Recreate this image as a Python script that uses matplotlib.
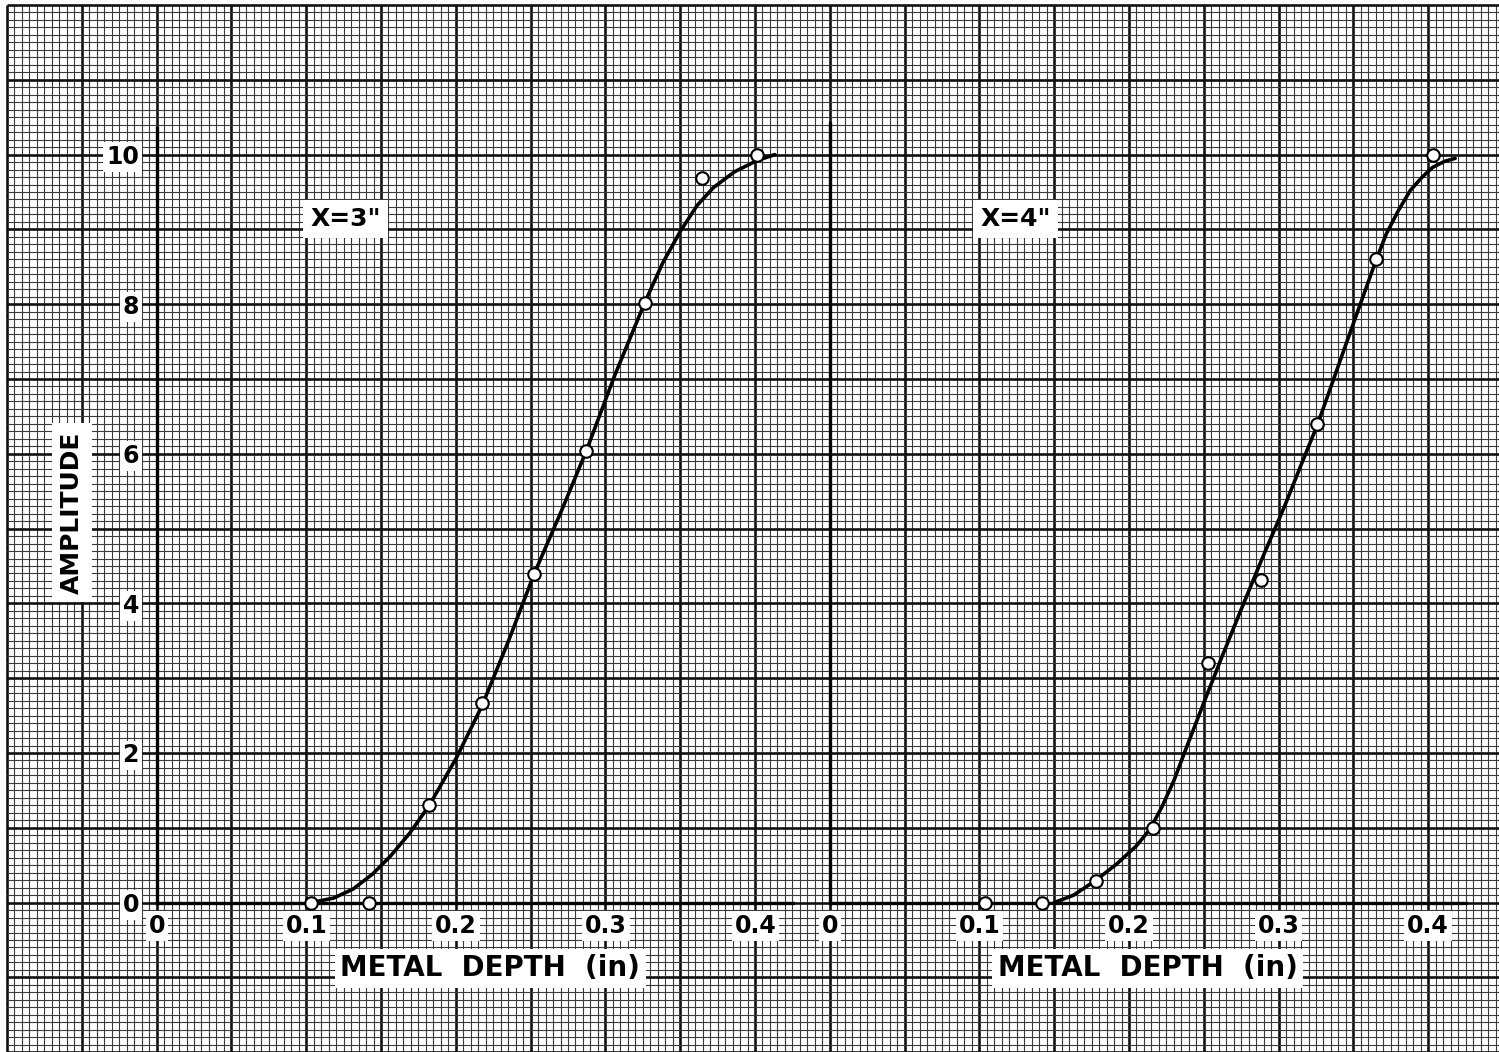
import numpy as np
import matplotlib.pyplot as plt

# figure size in pixels
W, H = 1499, 1052
out_file = 'out.png'

# measured points, x = metal depth (in), y = amplitude
x3_pts = [0.103, 0.142, 0.182, 0.217, 0.252, 0.287, 0.326, 0.364, 0.401]
y3_pts = [0.0, 0.0, 1.30, 2.67, 4.39, 6.04, 8.02, 9.69, 10.0]
x4_pts = [0.104, 0.142, 0.178, 0.216, 0.253, 0.288, 0.326, 0.365, 0.403]
y4_pts = [0.0, 0.0, 0.29, 1.00, 3.20, 4.31, 6.40, 8.60, 9.99]

# hand drawn fitted curves
x3_curve = [0.103, 0.118, 0.131, 0.144, 0.156, 0.169, 0.182, 0.200, 0.217, 0.235, 0.252,
            0.270, 0.287, 0.306, 0.326, 0.338, 0.350, 0.361, 0.372, 0.386, 0.401, 0.413]
y3_curve = [0.0, 0.06, 0.18, 0.38, 0.62, 0.93, 1.30, 1.93, 2.62, 3.50, 4.39,
            5.22, 6.04, 7.05, 8.02, 8.55, 8.98, 9.32, 9.56, 9.77, 9.92, 10.0]
x4_curve = [0.150, 0.163, 0.178, 0.192, 0.205, 0.214, 0.222, 0.230, 0.237, 0.249, 0.262,
            0.275, 0.289, 0.304, 0.315, 0.326, 0.346, 0.365, 0.372, 0.380, 0.388, 0.396,
            0.403, 0.411, 0.418]
y4_curve = [0.0, 0.10, 0.30, 0.52, 0.76, 0.98, 1.28, 1.63, 2.00, 2.62, 3.28,
            3.92, 4.60, 5.30, 5.85, 6.39, 7.52, 8.58, 8.94, 9.25, 9.52, 9.70,
            9.83, 9.91, 9.95]

y_ticks = [0, 2, 4, 6, 8, 10]
x_ticks = [0, 0.1, 0.2, 0.3, 0.4]
x_tick_labels = ['0', '0.1', '0.2', '0.3', '0.4']

# graph paper scale: pixels per 1 inch of depth and per amplitude unit
SX, SY = 1496.0, 74.8
GRID_X0, GRID_Y0 = 7.0, 5.0
MINOR = SY / 10

fig = plt.figure(figsize=(W / 100, H / 100), dpi=100)
fig.patch.set_facecolor('white')

# background graph paper in pixel coordinates
bg = fig.add_axes([0, 0, 1, 1])
bg.set_xlim(0, W)
bg.set_ylim(H, 0)
bg.axis('off')
gx = np.arange(GRID_X0, W + 1, MINOR)
gy = np.arange(GRID_Y0, H + 1, MINOR)
for i, x in enumerate(gx):
    major = i % 10 == 0
    bg.vlines(x, GRID_Y0, H, color='#111111' if major else '#3a3a3a',
              lw=1.9 if major else 0.8)
for i, y in enumerate(gy):
    major = i % 10 == 0
    bg.hlines(y, GRID_X0, W, color='#111111' if major else '#3a3a3a',
              lw=1.9 if major else 0.8)


def data_axes(x0px, y0px, xlim, ylim):
    left = (x0px + xlim[0] * SX) / W
    right = (x0px + xlim[1] * SX) / W
    bottom = 1 - (y0px - ylim[0] * SY) / H
    top = 1 - (y0px - ylim[1] * SY) / H
    ax = fig.add_axes([left, bottom, right - left, top - bottom])
    ax.set_xlim(*xlim)
    ax.set_ylim(*ylim)
    ax.patch.set_alpha(0)
    for s in ['top', 'right']:
        ax.spines[s].set_visible(False)
    for s in ['left', 'bottom']:
        ax.spines[s].set_position(('data', 0))
        ax.spines[s].set_linewidth(2.4)
        ax.spines[s].set_zorder(3)
    ax.tick_params(length=0)
    return ax


box = dict(facecolor='white', edgecolor='none', pad=2)
font = dict(family='DejaVu Sans', weight='bold')

panels = [
    (157.0, x3_pts, y3_pts, x3_curve, y3_curve, 'X=3"', 0.2226, 0.126),
    (829.8, x4_pts, y4_pts, x4_curve, y4_curve, 'X=4"', 0.2126, 0.124),
]

for k, (x0px, xp, yp, xc, yc, title, xlab_x, title_x) in enumerate(panels):
    ax = data_axes(x0px, 902.6, (-0.1, 0.43), (-1.6, 11.0))
    ax.spines['left'].set_bounds(0, 10.35 if k == 0 else 10.42)
    ax.spines['bottom'].set_bounds(0, 0.425)

    ax.plot(xc, yc, color='black', lw=2.6, solid_capstyle='round',
            solid_joinstyle='round', zorder=4)
    ax.plot(xp, yp, 'o', ms=9, mfc='white', mec='black', mew=1.5, zorder=5)

    ax.set_xticks(x_ticks)
    ax.set_xticklabels(x_tick_labels, fontsize=17, **font)
    ax.tick_params(axis='x', pad=8)
    for lbl in ax.get_xticklabels():
        lbl.set_bbox(box)
    if k == 0:
        ax.set_yticks(y_ticks)
        ax.set_yticklabels([str(v) for v in y_ticks], fontsize=17, **font)
        ax.tick_params(axis='y', pad=13)
        for lbl in ax.get_yticklabels():
            lbl.set_bbox(box)
        ax.text(-0.0568, 5.21, 'AMPLITUDE', rotation=90, ha='center', va='center',
                fontsize=18, bbox=dict(facecolor='white', edgecolor='none', pad=6), **font)
    else:
        ax.set_yticks([])

    ax.text(xlab_x, -0.88, 'METAL  DEPTH  (in)', ha='center', va='center',
            fontsize=20, bbox=dict(facecolor='white', edgecolor='none', pad=4), **font)
    ax.text(title_x, 9.14, title, ha='center', va='center', fontsize=18,
            bbox=dict(facecolor='white', edgecolor='none', pad=5), **font)

fig.savefig(out_file, dpi=100, facecolor='white')
